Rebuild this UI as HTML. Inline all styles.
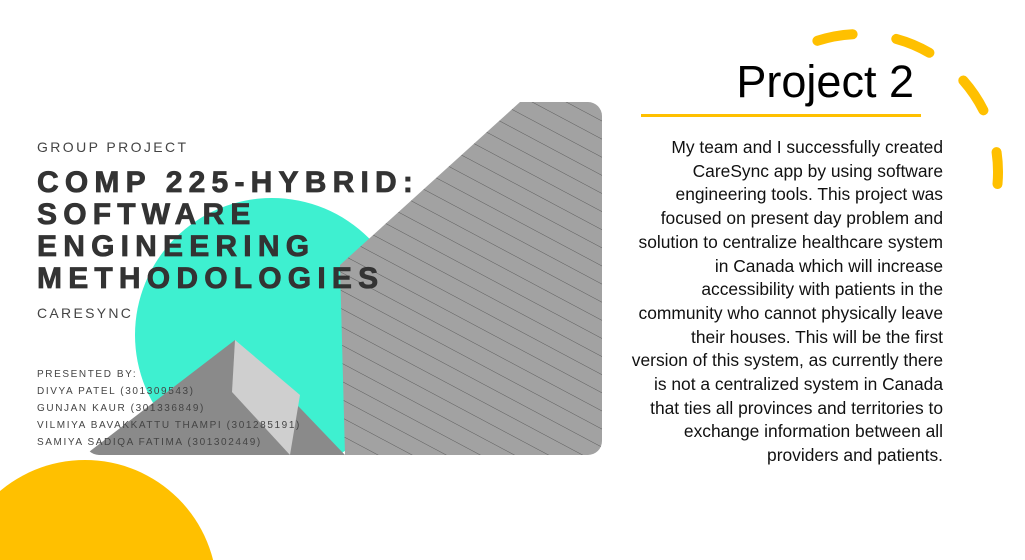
<!DOCTYPE html>
<html><head><meta charset="utf-8"><style>
html,body{margin:0;width:1025px;height:560px;overflow:hidden;background:#fff;position:relative;font-family:"Liberation Sans",sans-serif}
.a{position:absolute}
.sm{color:#444;letter-spacing:1.6px;font-size:10px;left:37px}
</style></head><body>
<svg class="a" style="left:0;top:0;overflow:hidden" width="1025" height="560">
<defs><clipPath id="c"><rect x="85" y="102" width="517" height="353" rx="14"/></clipPath>
<pattern id="p" width="16" height="16" patternUnits="userSpaceOnUse" patternTransform="rotate(28)"><rect width="16" height="16" fill="#a2a2a2"/><line x1="0" y1="0" x2="16" y2="0" stroke="#5e5e5e" stroke-width="1"/></pattern></defs>
<g clip-path="url(#c)">
<circle cx="272" cy="335" r="137" fill="#3ef0d0"/>
<polygon points="520,102 602,102 602,455 345,455 340,265" fill="url(#p)"/>
<polygon points="85,455 235,340 345,455" fill="#8a8a8a"/>
<polygon points="235,340 300,395 290,455 232,392" fill="#cfcfcf"/>
</g>
<circle cx="85" cy="592" r="132" fill="#ffc000"/>
<path d="M817.4 40.8 A138 138 0 0 1 997.5 184" fill="none" stroke="#ffc000" stroke-width="10" stroke-linecap="round" stroke-dasharray="36 44"/>
<rect x="641" y="114" width="280" height="3" fill="#ffc000"/>
</svg>
<div class="a sm" style="top:139px;font-size:14px;letter-spacing:2.4px">GROUP PROJECT</div>
<div class="a" style="left:37px;top:167px;font-weight:bold;font-size:30px;line-height:32px;letter-spacing:6.2px;color:#333;-webkit-text-stroke:0.8px #333">COMP 225-HYBRID:<br>SOFTWARE<br>ENGINEERING<br>METHODOLOGIES</div>
<div class="a sm" style="top:305px;font-size:14px;letter-spacing:2.3px">CARESYNC</div>
<div class="a sm" style="top:366px;line-height:17px">PRESENTED BY:<br>DIVYA PATEL (301309543)<br>GUNJAN KAUR (301336849)<br>VILMIYA BAVAKKATTU THAMPI (301285191)<br>SAMIYA SADIQA FATIMA (301302449)</div>
<div class="a" style="right:111px;top:56px;font-size:45px;color:#000">Project 2</div>
<div class="a" style="right:82px;top:136px;white-space:nowrap;text-align:right;font-size:17.4px;line-height:23.7px;color:#111">My team and I successfully created<br>CareSync app by using software<br>engineering tools. This project was<br>focused on present day problem and<br>solution to centralize healthcare system<br>in Canada which will increase<br>accessibility with patients in the<br>community who cannot physically leave<br>their houses. This will be the first<br>version of this system, as currently there<br>is not a centralized system in Canada<br>that ties all provinces and territories to<br>exchange information between all<br>providers and patients.</div>
</body></html>
